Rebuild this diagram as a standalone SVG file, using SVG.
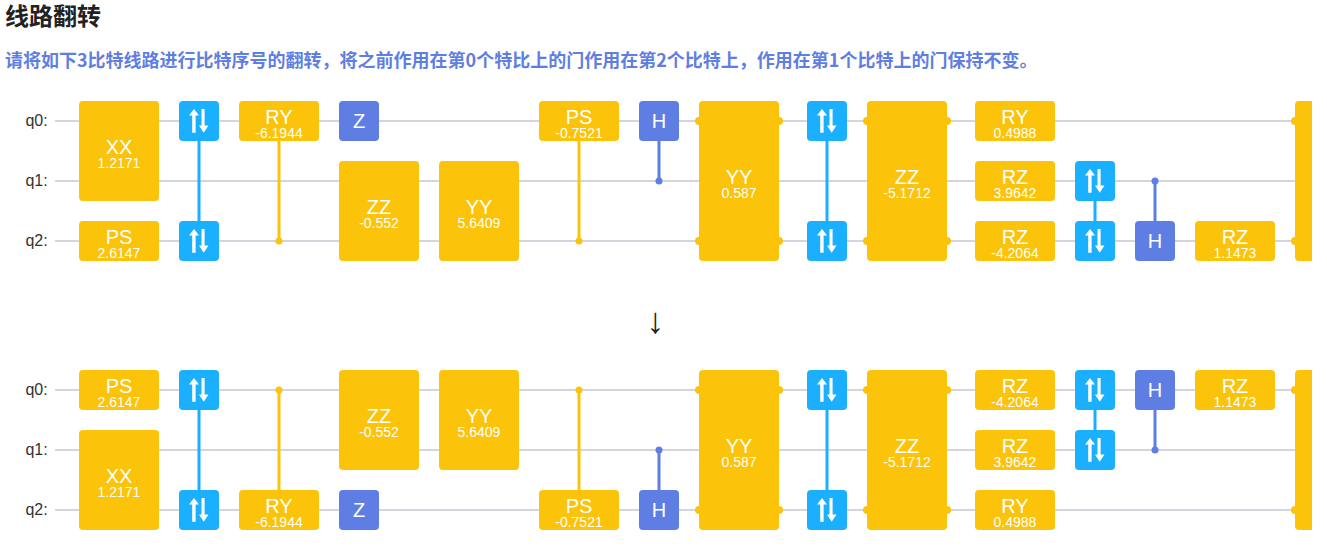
<svg xmlns="http://www.w3.org/2000/svg" width="1327" height="547" viewBox="0 0 1327 547">
<style>
text{font-family:"Liberation Sans",Arial,sans-serif}
.cn{font-family:"Noto Sans CJK SC","Liberation Sans",sans-serif;font-weight:700}
.t{font-size:24px;fill:#222}
.s{font-size:18px;fill:#5f7ee3}
.q{font-size:16px;fill:#333;text-anchor:middle}
.y{fill:#fbc30a}.b{fill:#1aafff}.p{fill:#5f7ee3}
.n{font-size:20px;fill:#fff;text-anchor:middle;transform:translateY(-1.5px)}
.h{font-size:20px;fill:#fff;text-anchor:middle}
.v{font-size:14px;fill:#fff;text-anchor:middle}
.w{stroke:#d4d4dc;stroke-width:2;fill:none}
.ly{stroke:#fbc30a;stroke-width:3}.lb{stroke:#1aafff;stroke-width:3}.lp{stroke:#5f7ee3;stroke-width:3}
</style>
<defs>
<g id="sw"><rect width="40" height="40" rx="4" class="b"/><path d="M15 8 20 14.500H16.600V31.700H13.200V14.500H10Z M22.500 8H25.600V24.500H29.500L24.700 31.700 20 24.500H22.500Z" fill="#fff"/></g>
</defs>
<text class="cn t" x="5" y="25">线路翻转</text>
<text class="cn s" x="5" y="67">请将如下3比特线路进行比特序号的翻转，将之前作用在第0个特比上的门作用在第2个比特上，作用在第1个比特上的门保持不变。</text>
<text x="655.500" y="333" font-size="36" fill="#222" text-anchor="middle">↓</text>
<g id="labels">
<text class="q" x="36.500" y="126">q0:</text><text class="q" x="36.500" y="186">q1:</text><text class="q" x="36.500" y="246">q2:</text>
<text class="q" x="36.500" y="395">q0:</text><text class="q" x="36.500" y="455">q1:</text><text class="q" x="36.500" y="515">q2:</text>
</g>
<g id="connectors">
<path class="w" d="M55 121H1295M55 181H1295M55 241H1295M55 390H1295M55 450H1295M55 510H1295"/>
<path class="lb" d="M199 121V241M827 121V241M1095 181V241M199 390V510M827 390V510M1095 390V450"/>
<path class="ly" d="M279 121V241M579 121V241M279 390V510M579 390V510"/>
<path class="lp" d="M659 121V181M1155 181V241M659 450V510M1155 390V450"/>
<g class="y">
<circle cx="279" cy="241" r="3.500"/><circle cx="579" cy="241" r="3.500"/><circle cx="279" cy="390" r="3.500"/><circle cx="579" cy="390" r="3.500"/>
<circle cx="699" cy="121" r="4"/><circle cx="779" cy="121" r="4"/><circle cx="699" cy="241" r="4"/><circle cx="779" cy="241" r="4"/>
<circle cx="867" cy="121" r="4"/><circle cx="947" cy="121" r="4"/><circle cx="867" cy="241" r="4"/><circle cx="947" cy="241" r="4"/>
<circle cx="1295" cy="121" r="4"/><circle cx="1295" cy="241" r="4"/>
<circle cx="699" cy="390" r="4"/><circle cx="779" cy="390" r="4"/><circle cx="699" cy="510" r="4"/><circle cx="779" cy="510" r="4"/>
<circle cx="867" cy="390" r="4"/><circle cx="947" cy="390" r="4"/><circle cx="867" cy="510" r="4"/><circle cx="947" cy="510" r="4"/>
<circle cx="1295" cy="390" r="4"/><circle cx="1295" cy="510" r="4"/>
</g>
<g class="p"><circle cx="659" cy="181" r="3.500"/><circle cx="1155" cy="181" r="3.500"/><circle cx="659" cy="450" r="3.500"/><circle cx="1155" cy="450" r="3.500"/></g>
</g>
<g id="top-xx"><rect class="y" x="79" y="101" width="80" height="100" rx="4"/><text class="n" x="119" y="155">XX</text><text class="v" x="119" y="168">1.2171</text></g>
<g id="top-ps1"><rect class="y" x="79" y="221" width="80" height="40" rx="4"/><text class="n" x="119" y="245">PS</text><text class="v" x="119" y="258">2.6147</text></g>
<g id="top-swap1a"><use href="#sw" x="179" y="101"/></g>
<g id="top-swap1b"><use href="#sw" x="179" y="221"/></g>
<g id="top-ry1"><rect class="y" x="239" y="101" width="80" height="40" rx="4"/><text class="n" x="279" y="125">RY</text><text class="v" x="279" y="138">-6.1944</text></g>
<g id="top-z"><rect class="p" x="339" y="101" width="40" height="40" rx="4"/><text class="h" x="359" y="128">Z</text></g>
<g id="top-zz1"><rect class="y" x="339" y="161" width="80" height="100" rx="4"/><text class="n" x="379" y="215">ZZ</text><text class="v" x="379" y="228">-0.552</text></g>
<g id="top-yy1"><rect class="y" x="439" y="161" width="80" height="100" rx="4"/><text class="n" x="479" y="215">YY</text><text class="v" x="479" y="228">5.6409</text></g>
<g id="top-ps2"><rect class="y" x="539" y="101" width="80" height="40" rx="4"/><text class="n" x="579" y="125">PS</text><text class="v" x="579" y="138">-0.7521</text></g>
<g id="top-h1"><rect class="p" x="639" y="101" width="40" height="40" rx="4"/><text class="h" x="659" y="128">H</text></g>
<g id="top-yy2"><rect class="y" x="699" y="101" width="80" height="160" rx="4"/><text class="n" x="739" y="185">YY</text><text class="v" x="739" y="198">0.587</text></g>
<g id="top-swap2a"><use href="#sw" x="807" y="101"/></g>
<g id="top-swap2b"><use href="#sw" x="807" y="221"/></g>
<g id="top-zz2"><rect class="y" x="867" y="101" width="80" height="160" rx="4"/><text class="n" x="907" y="185">ZZ</text><text class="v" x="907" y="198">-5.1712</text></g>
<g id="top-ry2"><rect class="y" x="975" y="101" width="80" height="40" rx="4"/><text class="n" x="1015" y="125">RY</text><text class="v" x="1015" y="138">0.4988</text></g>
<g id="top-rz1"><rect class="y" x="975" y="161" width="80" height="40" rx="4"/><text class="n" x="1015" y="185">RZ</text><text class="v" x="1015" y="198">3.9642</text></g>
<g id="top-rz2"><rect class="y" x="975" y="221" width="80" height="40" rx="4"/><text class="n" x="1015" y="245">RZ</text><text class="v" x="1015" y="258">-4.2064</text></g>
<g id="top-swap3a"><use href="#sw" x="1075" y="161"/></g>
<g id="top-swap3b"><use href="#sw" x="1075" y="221"/></g>
<g id="top-h2"><rect class="p" x="1135" y="221" width="40" height="40" rx="4"/><text class="h" x="1155" y="248">H</text></g>
<g id="top-rz3"><rect class="y" x="1195" y="221" width="80" height="40" rx="4"/><text class="n" x="1235" y="245">RZ</text><text class="v" x="1235" y="258">1.1473</text></g>
<g id="top-end"><path class="y" d="M1312 101H1299a4 4 0 0 0-4 4V257a4 4 0 0 0 4 4H1312Z"/></g>

<g id="bot-ps1"><rect class="y" x="79" y="370" width="80" height="40" rx="4"/><text class="n" x="119" y="394">PS</text><text class="v" x="119" y="407">2.6147</text></g>
<g id="bot-xx"><rect class="y" x="79" y="430" width="80" height="100" rx="4"/><text class="n" x="119" y="484">XX</text><text class="v" x="119" y="497">1.2171</text></g>
<g id="bot-swap1a"><use href="#sw" x="179" y="370"/></g>
<g id="bot-swap1b"><use href="#sw" x="179" y="490"/></g>
<g id="bot-ry1"><rect class="y" x="239" y="490" width="80" height="40" rx="4"/><text class="n" x="279" y="514">RY</text><text class="v" x="279" y="527">-6.1944</text></g>
<g id="bot-z"><rect class="p" x="339" y="490" width="40" height="40" rx="4"/><text class="h" x="359" y="517">Z</text></g>
<g id="bot-zz1"><rect class="y" x="339" y="370" width="80" height="100" rx="4"/><text class="n" x="379" y="424">ZZ</text><text class="v" x="379" y="437">-0.552</text></g>
<g id="bot-yy1"><rect class="y" x="439" y="370" width="80" height="100" rx="4"/><text class="n" x="479" y="424">YY</text><text class="v" x="479" y="437">5.6409</text></g>
<g id="bot-ps2"><rect class="y" x="539" y="490" width="80" height="40" rx="4"/><text class="n" x="579" y="514">PS</text><text class="v" x="579" y="527">-0.7521</text></g>
<g id="bot-h1"><rect class="p" x="639" y="490" width="40" height="40" rx="4"/><text class="h" x="659" y="517">H</text></g>
<g id="bot-yy2"><rect class="y" x="699" y="370" width="80" height="160" rx="4"/><text class="n" x="739" y="454">YY</text><text class="v" x="739" y="467">0.587</text></g>
<g id="bot-swap2a"><use href="#sw" x="807" y="370"/></g>
<g id="bot-swap2b"><use href="#sw" x="807" y="490"/></g>
<g id="bot-zz2"><rect class="y" x="867" y="370" width="80" height="160" rx="4"/><text class="n" x="907" y="454">ZZ</text><text class="v" x="907" y="467">-5.1712</text></g>
<g id="bot-rz2"><rect class="y" x="975" y="370" width="80" height="40" rx="4"/><text class="n" x="1015" y="394">RZ</text><text class="v" x="1015" y="407">-4.2064</text></g>
<g id="bot-rz1"><rect class="y" x="975" y="430" width="80" height="40" rx="4"/><text class="n" x="1015" y="454">RZ</text><text class="v" x="1015" y="467">3.9642</text></g>
<g id="bot-ry2"><rect class="y" x="975" y="490" width="80" height="40" rx="4"/><text class="n" x="1015" y="514">RY</text><text class="v" x="1015" y="527">0.4988</text></g>
<g id="bot-swap3a"><use href="#sw" x="1075" y="370"/></g>
<g id="bot-swap3b"><use href="#sw" x="1075" y="430"/></g>
<g id="bot-h2"><rect class="p" x="1135" y="370" width="40" height="40" rx="4"/><text class="h" x="1155" y="397">H</text></g>
<g id="bot-rz3"><rect class="y" x="1195" y="370" width="80" height="40" rx="4"/><text class="n" x="1235" y="394">RZ</text><text class="v" x="1235" y="407">1.1473</text></g>
<g id="bot-end"><path class="y" d="M1312 370H1299a4 4 0 0 0-4 4V526a4 4 0 0 0 4 4H1312Z"/></g>
</svg>
